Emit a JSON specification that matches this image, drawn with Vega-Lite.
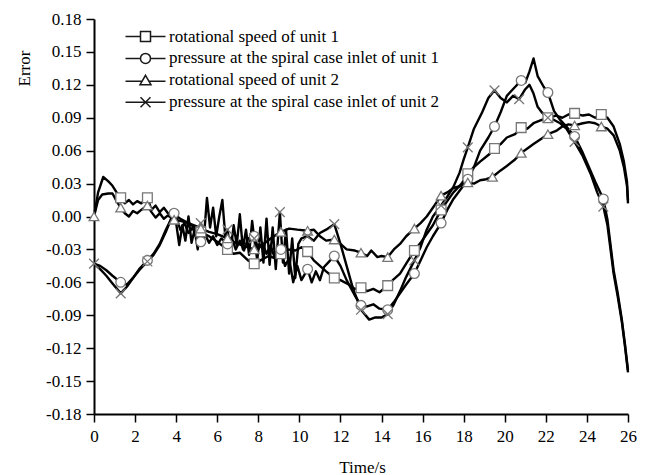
{
  "$schema": "https://vega.github.io/schema/vega-lite/v6.json",
  "width": 534,
  "height": 395,
  "autosize": {"type": "none"},
  "padding": {"left": 94, "top": 19, "right": 21, "bottom": 61},
  "background": "white",
  "config": {
    "view": {"stroke": null},
    "font": "Liberation Serif",
    "axis": {
      "grid": false,
      "labelFont": "Liberation Serif",
      "labelFontSize": 17,
      "labelColor": "black",
      "titleFont": "Liberation Serif",
      "titleFontSize": 17,
      "titleFontWeight": "normal",
      "titleColor": "black",
      "tickColor": "black",
      "tickSize": 8,
      "tickWidth": 1.5,
      "domainColor": "black",
      "domainWidth": 2,
      "labelFlush": false,
      "labelOverlap": false
    }
  },
  "data": {
    "values": [
      {"s":"A","t":0,"v":0,"m":0},{"s":"A","t":0.2,"v":0.022,"m":0},{"s":"A","t":0.45,"v":0.036,"m":0},{"s":"A","t":0.7,"v":0.032,"m":0},{"s":"A","t":0.9,"v":0.028,"m":0},{"s":"A","t":1.1,"v":0.022,"m":0},{"s":"A","t":1.3,"v":0.017,"m":1},{"s":"A","t":1.5,"v":0.012,"m":0},{"s":"A","t":1.7,"v":0.015,"m":0},{"s":"A","t":1.9,"v":0.011,"m":0},{"s":"A","t":2.1,"v":0.014,"m":0},{"s":"A","t":2.3,"v":0.012,"m":0},{"s":"A","t":2.6,"v":0.017,"m":1},{"s":"A","t":2.8,"v":0.006,"m":0},{"s":"A","t":3.0,"v":0.010,"m":0},{"s":"A","t":3.2,"v":0.004,"m":0},{"s":"A","t":3.4,"v":0.008,"m":0},{"s":"A","t":3.6,"v":0.003,"m":0},{"s":"A","t":3.9,"v":0.002,"m":0},{"s":"A","t":4.2,"v":-0.002,"m":0},{"s":"A","t":4.6,"v":-0.006,"m":0},{"s":"A","t":4.9,"v":-0.010,"m":0},{"s":"A","t":5.2,"v":-0.014,"m":1},{"s":"A","t":5.6,"v":-0.018,"m":0},{"s":"A","t":6.0,"v":-0.023,"m":0},{"s":"A","t":6.5,"v":-0.030,"m":1},{"s":"A","t":6.8,"v":-0.034,"m":0},{"s":"A","t":7.1,"v":-0.033,"m":0},{"s":"A","t":7.5,"v":-0.040,"m":0},{"s":"A","t":7.8,"v":-0.043,"m":1},{"s":"A","t":8.1,"v":-0.040,"m":0},{"s":"A","t":8.5,"v":-0.036,"m":0},{"s":"A","t":8.8,"v":-0.038,"m":0},{"s":"A","t":9.1,"v":-0.034,"m":1},{"s":"A","t":9.4,"v":-0.030,"m":0},{"s":"A","t":9.8,"v":-0.031,"m":0},{"s":"A","t":10.1,"v":-0.028,"m":0},{"s":"A","t":10.4,"v":-0.032,"m":1},{"s":"A","t":10.7,"v":-0.040,"m":0},{"s":"A","t":11.0,"v":-0.045,"m":0},{"s":"A","t":11.3,"v":-0.050,"m":0},{"s":"A","t":11.7,"v":-0.056,"m":1},{"s":"A","t":12.0,"v":-0.058,"m":0},{"s":"A","t":12.4,"v":-0.062,"m":0},{"s":"A","t":12.7,"v":-0.066,"m":0},{"s":"A","t":13.0,"v":-0.065,"m":1},{"s":"A","t":13.3,"v":-0.068,"m":0},{"s":"A","t":13.6,"v":-0.066,"m":0},{"s":"A","t":13.9,"v":-0.069,"m":0},{"s":"A","t":14.3,"v":-0.063,"m":1},{"s":"A","t":14.6,"v":-0.057,"m":0},{"s":"A","t":14.9,"v":-0.052,"m":0},{"s":"A","t":15.2,"v":-0.043,"m":0},{"s":"A","t":15.6,"v":-0.031,"m":1},{"s":"A","t":15.9,"v":-0.024,"m":0},{"s":"A","t":16.2,"v":-0.016,"m":0},{"s":"A","t":16.5,"v":-0.008,"m":0},{"s":"A","t":16.9,"v":0.006,"m":1},{"s":"A","t":17.2,"v":0.014,"m":0},{"s":"A","t":17.5,"v":0.022,"m":0},{"s":"A","t":17.9,"v":0.030,"m":0},{"s":"A","t":18.2,"v":0.039,"m":1},{"s":"A","t":18.5,"v":0.045,"m":0},{"s":"A","t":18.8,"v":0.050,"m":0},{"s":"A","t":19.2,"v":0.056,"m":0},{"s":"A","t":19.5,"v":0.062,"m":1},{"s":"A","t":19.8,"v":0.066,"m":0},{"s":"A","t":20.1,"v":0.072,"m":0},{"s":"A","t":20.5,"v":0.075,"m":0},{"s":"A","t":20.8,"v":0.081,"m":1},{"s":"A","t":21.1,"v":0.080,"m":0},{"s":"A","t":21.4,"v":0.085,"m":0},{"s":"A","t":21.8,"v":0.088,"m":0},{"s":"A","t":22.1,"v":0.090,"m":1},{"s":"A","t":22.5,"v":0.092,"m":0},{"s":"A","t":22.8,"v":0.090,"m":0},{"s":"A","t":23.1,"v":0.093,"m":0},{"s":"A","t":23.4,"v":0.094,"m":1},{"s":"A","t":23.8,"v":0.092,"m":0},{"s":"A","t":24.1,"v":0.093,"m":0},{"s":"A","t":24.4,"v":0.090,"m":0},{"s":"A","t":24.7,"v":0.093,"m":1},{"s":"A","t":25.0,"v":0.090,"m":0},{"s":"A","t":25.3,"v":0.082,"m":0},{"s":"A","t":25.6,"v":0.066,"m":0},{"s":"A","t":25.8,"v":0.050,"m":0},{"s":"A","t":25.95,"v":0.032,"m":0},{"s":"A","t":26.0,"v":0.012,"m":0},

      {"s":"B","t":0,"v":-0.043,"m":0},{"s":"B","t":0.3,"v":-0.045,"m":0},{"s":"B","t":0.6,"v":-0.049,"m":0},{"s":"B","t":0.9,"v":-0.054,"m":0},{"s":"B","t":1.3,"v":-0.060,"m":1},{"s":"B","t":1.6,"v":-0.062,"m":0},{"s":"B","t":1.9,"v":-0.056,"m":0},{"s":"B","t":2.2,"v":-0.048,"m":0},{"s":"B","t":2.6,"v":-0.040,"m":1},{"s":"B","t":2.9,"v":-0.034,"m":0},{"s":"B","t":3.2,"v":-0.025,"m":0},{"s":"B","t":3.5,"v":-0.012,"m":0},{"s":"B","t":3.9,"v":0.003,"m":1},{"s":"B","t":4.05,"v":-0.003,"m":0},{"s":"B","t":4.2,"v":-0.012,"m":0},{"s":"B","t":4.4,"v":-0.006,"m":0},{"s":"B","t":4.6,"v":-0.015,"m":0},{"s":"B","t":4.8,"v":-0.010,"m":0},{"s":"B","t":5.0,"v":-0.020,"m":0},{"s":"B","t":5.2,"v":-0.023,"m":1},{"s":"B","t":5.4,"v":-0.016,"m":0},{"s":"B","t":5.6,"v":-0.024,"m":0},{"s":"B","t":5.8,"v":-0.018,"m":0},{"s":"B","t":6.0,"v":-0.026,"m":0},{"s":"B","t":6.2,"v":-0.020,"m":0},{"s":"B","t":6.5,"v":-0.025,"m":1},{"s":"B","t":6.7,"v":-0.019,"m":0},{"s":"B","t":6.9,"v":-0.030,"m":0},{"s":"B","t":7.1,"v":-0.022,"m":0},{"s":"B","t":7.3,"v":-0.031,"m":0},{"s":"B","t":7.5,"v":-0.020,"m":0},{"s":"B","t":7.8,"v":-0.018,"m":1},{"s":"B","t":8.0,"v":-0.030,"m":0},{"s":"B","t":8.2,"v":-0.024,"m":0},{"s":"B","t":8.4,"v":-0.034,"m":0},{"s":"B","t":8.6,"v":-0.026,"m":0},{"s":"B","t":8.8,"v":-0.038,"m":0},{"s":"B","t":9.1,"v":-0.030,"m":1},{"s":"B","t":9.3,"v":-0.045,"m":0},{"s":"B","t":9.5,"v":-0.038,"m":0},{"s":"B","t":9.7,"v":-0.060,"m":0},{"s":"B","t":9.9,"v":-0.045,"m":0},{"s":"B","t":10.1,"v":-0.058,"m":0},{"s":"B","t":10.4,"v":-0.048,"m":1},{"s":"B","t":10.6,"v":-0.060,"m":0},{"s":"B","t":10.8,"v":-0.050,"m":0},{"s":"B","t":11.0,"v":-0.058,"m":0},{"s":"B","t":11.2,"v":-0.046,"m":0},{"s":"B","t":11.4,"v":-0.042,"m":0},{"s":"B","t":11.7,"v":-0.036,"m":1},{"s":"B","t":12.0,"v":-0.045,"m":0},{"s":"B","t":12.3,"v":-0.058,"m":0},{"s":"B","t":12.7,"v":-0.072,"m":0},{"s":"B","t":13.0,"v":-0.081,"m":1},{"s":"B","t":13.3,"v":-0.082,"m":0},{"s":"B","t":13.6,"v":-0.080,"m":0},{"s":"B","t":13.9,"v":-0.084,"m":0},{"s":"B","t":14.3,"v":-0.085,"m":1},{"s":"B","t":14.6,"v":-0.078,"m":0},{"s":"B","t":14.9,"v":-0.070,"m":0},{"s":"B","t":15.2,"v":-0.062,"m":0},{"s":"B","t":15.6,"v":-0.052,"m":1},{"s":"B","t":15.9,"v":-0.040,"m":0},{"s":"B","t":16.2,"v":-0.028,"m":0},{"s":"B","t":16.5,"v":-0.018,"m":0},{"s":"B","t":16.9,"v":-0.006,"m":1},{"s":"B","t":17.2,"v":0.006,"m":0},{"s":"B","t":17.5,"v":0.016,"m":0},{"s":"B","t":17.9,"v":0.026,"m":0},{"s":"B","t":18.2,"v":0.034,"m":1},{"s":"B","t":18.5,"v":0.045,"m":0},{"s":"B","t":18.8,"v":0.060,"m":0},{"s":"B","t":19.2,"v":0.072,"m":0},{"s":"B","t":19.5,"v":0.082,"m":1},{"s":"B","t":19.8,"v":0.095,"m":0},{"s":"B","t":20.1,"v":0.110,"m":0},{"s":"B","t":20.5,"v":0.118,"m":0},{"s":"B","t":20.8,"v":0.124,"m":1},{"s":"B","t":21.0,"v":0.122,"m":0},{"s":"B","t":21.2,"v":0.132,"m":0},{"s":"B","t":21.4,"v":0.144,"m":0},{"s":"B","t":21.6,"v":0.128,"m":0},{"s":"B","t":21.9,"v":0.118,"m":0},{"s":"B","t":22.1,"v":0.113,"m":1},{"s":"B","t":22.4,"v":0.096,"m":0},{"s":"B","t":22.7,"v":0.088,"m":0},{"s":"B","t":23.0,"v":0.082,"m":0},{"s":"B","t":23.4,"v":0.073,"m":1},{"s":"B","t":23.8,"v":0.058,"m":0},{"s":"B","t":24.1,"v":0.045,"m":0},{"s":"B","t":24.4,"v":0.032,"m":0},{"s":"B","t":24.8,"v":0.016,"m":1},{"s":"B","t":25.0,"v":-0.003,"m":0},{"s":"B","t":25.3,"v":-0.049,"m":0},{"s":"B","t":25.5,"v":-0.070,"m":0},{"s":"B","t":25.7,"v":-0.094,"m":0},{"s":"B","t":25.85,"v":-0.116,"m":0},{"s":"B","t":26.0,"v":-0.140,"m":0},

      {"s":"C","t":0,"v":0,"m":1},{"s":"C","t":0.2,"v":0.015,"m":0},{"s":"C","t":0.4,"v":0.020,"m":0},{"s":"C","t":0.7,"v":0.021,"m":0},{"s":"C","t":0.9,"v":0.021,"m":0},{"s":"C","t":1.1,"v":0.014,"m":0},{"s":"C","t":1.3,"v":0.008,"m":1},{"s":"C","t":1.5,"v":0.003,"m":0},{"s":"C","t":1.7,"v":0.000,"m":0},{"s":"C","t":1.9,"v":0.005,"m":0},{"s":"C","t":2.1,"v":0.003,"m":0},{"s":"C","t":2.3,"v":0.006,"m":0},{"s":"C","t":2.6,"v":0.010,"m":1},{"s":"C","t":2.8,"v":0.004,"m":0},{"s":"C","t":3.0,"v":-0.001,"m":0},{"s":"C","t":3.2,"v":0.003,"m":0},{"s":"C","t":3.4,"v":-0.002,"m":0},{"s":"C","t":3.6,"v":0.001,"m":0},{"s":"C","t":3.9,"v":-0.003,"m":1},{"s":"C","t":4.2,"v":-0.004,"m":0},{"s":"C","t":4.6,"v":-0.006,"m":0},{"s":"C","t":5.0,"v":-0.009,"m":0},{"s":"C","t":5.2,"v":-0.011,"m":1},{"s":"C","t":5.6,"v":-0.014,"m":0},{"s":"C","t":6.0,"v":-0.016,"m":0},{"s":"C","t":6.5,"v":-0.020,"m":1},{"s":"C","t":6.9,"v":-0.024,"m":0},{"s":"C","t":7.3,"v":-0.027,"m":0},{"s":"C","t":7.8,"v":-0.030,"m":1},{"s":"C","t":8.2,"v":-0.026,"m":0},{"s":"C","t":8.6,"v":-0.020,"m":0},{"s":"C","t":9.1,"v":-0.014,"m":1},{"s":"C","t":9.5,"v":-0.011,"m":0},{"s":"C","t":9.9,"v":-0.012,"m":0},{"s":"C","t":10.4,"v":-0.013,"m":1},{"s":"C","t":10.7,"v":-0.012,"m":0},{"s":"C","t":11.0,"v":-0.018,"m":0},{"s":"C","t":11.3,"v":-0.022,"m":0},{"s":"C","t":11.7,"v":-0.021,"m":1},{"s":"C","t":12.0,"v":-0.025,"m":0},{"s":"C","t":12.3,"v":-0.030,"m":0},{"s":"C","t":12.7,"v":-0.031,"m":0},{"s":"C","t":13.0,"v":-0.033,"m":1},{"s":"C","t":13.3,"v":-0.036,"m":0},{"s":"C","t":13.5,"v":-0.031,"m":0},{"s":"C","t":13.8,"v":-0.037,"m":0},{"s":"C","t":14.0,"v":-0.036,"m":0},{"s":"C","t":14.3,"v":-0.037,"m":1},{"s":"C","t":14.6,"v":-0.030,"m":0},{"s":"C","t":14.9,"v":-0.025,"m":0},{"s":"C","t":15.2,"v":-0.018,"m":0},{"s":"C","t":15.6,"v":-0.011,"m":1},{"s":"C","t":15.9,"v":-0.006,"m":0},{"s":"C","t":16.2,"v":0.000,"m":0},{"s":"C","t":16.5,"v":0.008,"m":0},{"s":"C","t":16.9,"v":0.019,"m":1},{"s":"C","t":17.2,"v":0.022,"m":0},{"s":"C","t":17.5,"v":0.026,"m":0},{"s":"C","t":17.9,"v":0.028,"m":0},{"s":"C","t":18.2,"v":0.031,"m":1},{"s":"C","t":18.5,"v":0.030,"m":0},{"s":"C","t":18.8,"v":0.033,"m":0},{"s":"C","t":19.1,"v":0.034,"m":0},{"s":"C","t":19.4,"v":0.036,"m":1},{"s":"C","t":19.8,"v":0.042,"m":0},{"s":"C","t":20.1,"v":0.046,"m":0},{"s":"C","t":20.5,"v":0.052,"m":0},{"s":"C","t":20.8,"v":0.058,"m":1},{"s":"C","t":21.1,"v":0.062,"m":0},{"s":"C","t":21.4,"v":0.066,"m":0},{"s":"C","t":21.8,"v":0.071,"m":0},{"s":"C","t":22.1,"v":0.075,"m":1},{"s":"C","t":22.5,"v":0.078,"m":0},{"s":"C","t":22.8,"v":0.082,"m":0},{"s":"C","t":23.1,"v":0.084,"m":0},{"s":"C","t":23.4,"v":0.083,"m":1},{"s":"C","t":23.8,"v":0.085,"m":0},{"s":"C","t":24.1,"v":0.086,"m":0},{"s":"C","t":24.4,"v":0.085,"m":0},{"s":"C","t":24.7,"v":0.082,"m":1},{"s":"C","t":25.0,"v":0.080,"m":0},{"s":"C","t":25.3,"v":0.074,"m":0},{"s":"C","t":25.6,"v":0.060,"m":0},{"s":"C","t":25.8,"v":0.045,"m":0},{"s":"C","t":25.95,"v":0.028,"m":0},{"s":"C","t":26.0,"v":0.015,"m":0},

      {"s":"D","t":0,"v":-0.043,"m":1},{"s":"D","t":0.3,"v":-0.048,"m":0},{"s":"D","t":0.6,"v":-0.054,"m":0},{"s":"D","t":0.9,"v":-0.061,"m":0},{"s":"D","t":1.3,"v":-0.070,"m":1},{"s":"D","t":1.6,"v":-0.064,"m":0},{"s":"D","t":1.9,"v":-0.056,"m":0},{"s":"D","t":2.2,"v":-0.049,"m":0},{"s":"D","t":2.6,"v":-0.041,"m":1},{"s":"D","t":2.9,"v":-0.035,"m":0},{"s":"D","t":3.2,"v":-0.026,"m":0},{"s":"D","t":3.5,"v":-0.014,"m":0},{"s":"D","t":3.8,"v":0.000,"m":0},{"s":"D","t":4.0,"v":-0.006,"m":0},{"s":"D","t":4.15,"v":-0.026,"m":0},{"s":"D","t":4.3,"v":-0.008,"m":0},{"s":"D","t":4.45,"v":-0.022,"m":0},{"s":"D","t":4.6,"v":0.000,"m":0},{"s":"D","t":4.75,"v":-0.024,"m":0},{"s":"D","t":4.9,"v":-0.012,"m":0},{"s":"D","t":5.05,"v":-0.030,"m":0},{"s":"D","t":5.2,"v":-0.006,"m":1},{"s":"D","t":5.35,"v":-0.020,"m":0},{"s":"D","t":5.5,"v":0.017,"m":0},{"s":"D","t":5.65,"v":-0.010,"m":0},{"s":"D","t":5.8,"v":0.008,"m":0},{"s":"D","t":5.95,"v":-0.018,"m":0},{"s":"D","t":6.1,"v":0.000,"m":0},{"s":"D","t":6.25,"v":0.015,"m":0},{"s":"D","t":6.4,"v":-0.020,"m":0},{"s":"D","t":6.5,"v":-0.012,"m":1},{"s":"D","t":6.65,"v":-0.032,"m":0},{"s":"D","t":6.8,"v":-0.008,"m":0},{"s":"D","t":6.95,"v":-0.026,"m":0},{"s":"D","t":7.1,"v":0.002,"m":0},{"s":"D","t":7.25,"v":-0.030,"m":0},{"s":"D","t":7.4,"v":-0.012,"m":0},{"s":"D","t":7.55,"v":-0.035,"m":0},{"s":"D","t":7.7,"v":-0.004,"m":0},{"s":"D","t":7.8,"v":-0.020,"m":1},{"s":"D","t":7.95,"v":-0.040,"m":0},{"s":"D","t":8.1,"v":-0.010,"m":0},{"s":"D","t":8.25,"v":-0.042,"m":0},{"s":"D","t":8.4,"v":-0.002,"m":0},{"s":"D","t":8.55,"v":-0.044,"m":0},{"s":"D","t":8.7,"v":-0.010,"m":0},{"s":"D","t":8.85,"v":-0.048,"m":0},{"s":"D","t":9.05,"v":0.004,"m":1},{"s":"D","t":9.2,"v":-0.042,"m":0},{"s":"D","t":9.35,"v":-0.012,"m":0},{"s":"D","t":9.5,"v":-0.052,"m":0},{"s":"D","t":9.65,"v":-0.020,"m":0},{"s":"D","t":9.8,"v":-0.056,"m":0},{"s":"D","t":9.95,"v":-0.025,"m":0},{"s":"D","t":10.1,"v":-0.020,"m":0},{"s":"D","t":10.4,"v":-0.018,"m":1},{"s":"D","t":10.7,"v":-0.022,"m":0},{"s":"D","t":11.0,"v":-0.015,"m":0},{"s":"D","t":11.3,"v":-0.012,"m":0},{"s":"D","t":11.7,"v":-0.007,"m":1},{"s":"D","t":12.0,"v":-0.025,"m":0},{"s":"D","t":12.3,"v":-0.045,"m":0},{"s":"D","t":12.6,"v":-0.065,"m":0},{"s":"D","t":13.0,"v":-0.085,"m":1},{"s":"D","t":13.4,"v":-0.094,"m":0},{"s":"D","t":13.7,"v":-0.092,"m":0},{"s":"D","t":14.0,"v":-0.092,"m":0},{"s":"D","t":14.3,"v":-0.089,"m":1},{"s":"D","t":14.6,"v":-0.080,"m":0},{"s":"D","t":14.9,"v":-0.068,"m":0},{"s":"D","t":15.2,"v":-0.055,"m":0},{"s":"D","t":15.6,"v":-0.040,"m":1},{"s":"D","t":15.9,"v":-0.028,"m":0},{"s":"D","t":16.2,"v":-0.012,"m":0},{"s":"D","t":16.5,"v":0.000,"m":0},{"s":"D","t":16.9,"v":0.010,"m":1},{"s":"D","t":17.2,"v":0.018,"m":0},{"s":"D","t":17.5,"v":0.027,"m":0},{"s":"D","t":17.8,"v":0.040,"m":0},{"s":"D","t":18.0,"v":0.052,"m":0},{"s":"D","t":18.2,"v":0.063,"m":1},{"s":"D","t":18.5,"v":0.080,"m":0},{"s":"D","t":18.9,"v":0.095,"m":0},{"s":"D","t":19.2,"v":0.108,"m":0},{"s":"D","t":19.5,"v":0.115,"m":1},{"s":"D","t":19.8,"v":0.108,"m":0},{"s":"D","t":20.1,"v":0.104,"m":0},{"s":"D","t":20.4,"v":0.110,"m":0},{"s":"D","t":20.7,"v":0.107,"m":1},{"s":"D","t":21.0,"v":0.116,"m":0},{"s":"D","t":21.2,"v":0.120,"m":0},{"s":"D","t":21.4,"v":0.112,"m":0},{"s":"D","t":21.6,"v":0.100,"m":0},{"s":"D","t":21.8,"v":0.095,"m":0},{"s":"D","t":22.1,"v":0.090,"m":1},{"s":"D","t":22.4,"v":0.088,"m":0},{"s":"D","t":22.7,"v":0.085,"m":0},{"s":"D","t":23.0,"v":0.080,"m":0},{"s":"D","t":23.4,"v":0.068,"m":1},{"s":"D","t":23.8,"v":0.055,"m":0},{"s":"D","t":24.2,"v":0.038,"m":0},{"s":"D","t":24.5,"v":0.022,"m":0},{"s":"D","t":24.8,"v":0.009,"m":1},{"s":"D","t":25.0,"v":-0.008,"m":0},{"s":"D","t":25.3,"v":-0.052,"m":0},{"s":"D","t":25.5,"v":-0.073,"m":0},{"s":"D","t":25.7,"v":-0.096,"m":0},{"s":"D","t":25.85,"v":-0.118,"m":0},{"s":"D","t":26.0,"v":-0.142,"m":0}
    ]
  },
  "encoding": {
    "x": {
      "field": "t",
      "type": "quantitative",
      "scale": {"domain": [0, 26], "nice": false, "zero": false},
      "axis": {
        "title": "Time/s",
        "values": [0, 2, 4, 6, 8, 10, 12, 14, 16, 18, 20, 22, 24, 26],
        "format": "d",
        "labelPadding": 6,
        "titleX": 268,
        "titleY": 58,
        "titleBaseline": "alphabetic",
        "titleAlign": "center"
      }
    },
    "y": {
      "field": "v",
      "type": "quantitative",
      "scale": {"domain": [-0.18, 0.18], "nice": false, "zero": false},
      "axis": {
        "title": "Error",
        "values": [-0.18, -0.15, -0.12, -0.09, -0.06, -0.03, 0, 0.03, 0.06, 0.09, 0.12, 0.15, 0.18],
        "labelExpr": "replace(format(datum.value, '.2f'), '\u2212', '-')",
        "labelPadding": 5,
        "titleAngle": -90,
        "titleX": -70,
        "titleY": 49,
        "titleAlign": "center",
        "titleBaseline": "middle"
      }
    }
  },
  "layer": [
    {
      "mark": {"type": "line", "color": "black", "strokeWidth": 2.4, "strokeJoin": "round"},
      "encoding": {"detail": {"field": "s", "type": "nominal"}}
    },
    {
      "transform": [{"filter": "datum.m == 1"}],
      "mark": {"type": "point", "fill": "white", "stroke": "#777777", "strokeWidth": 1.3, "size": 95, "opacity": 1},
      "encoding": {
        "shape": {
          "field": "s",
          "type": "nominal",
          "scale": {"domain": ["A", "B", "C", "D"], "range": ["square", "circle", "triangle-up", "M-1,-1L1,1M-1,1L1,-1"]},
          "legend": null
        }
      }
    },
    {
      "transform": [{"filter": "datum.m == 2"}],
      "mark": {"type": "point", "fill": "white", "stroke": "#1a1a1a", "strokeWidth": 1.8, "size": 100, "opacity": 1},
      "encoding": {
        "shape": {
          "field": "s",
          "type": "nominal",
          "scale": {
            "domain": ["A", "B", "C", "D"],
            "range": [
              "M-4,0H-1M1,0H4M-1,-1H1V1H-1Z",
              "M-4,0H-1M1,0H4M-1,0A1,1,0,1,1,1,0A1,1,0,1,1,-1,0Z",
              "M-4,0.2H-0.69M0.69,0.2H4M0,-1L1.1,0.9H-1.1Z",
              "M-4,0H4M-1,-1L1,1M-1,1L1,-1"
            ]
          },
          "legend": {
            "title": null,
            "orient": "none",
            "legendX": 43,
            "legendY": 9,
            "symbolSize": 100,
            "labelFont": "Liberation Serif",
            "labelFontSize": 17,
            "labelColor": "black",
            "labelOffset": 15,
            "labelLimit": 400,
            "rowPadding": 3.9,
            "labelExpr": "{'A': 'rotational speed of unit 1', 'B': 'pressure at the spiral case inlet of unit 1', 'C': 'rotational speed of unit 2', 'D': 'pressure at the spiral case inlet of unit 2'}[datum.label]"
          }
        }
      }
    }
  ],
  "resolve": {"scale": {"shape": "independent"}}
}
